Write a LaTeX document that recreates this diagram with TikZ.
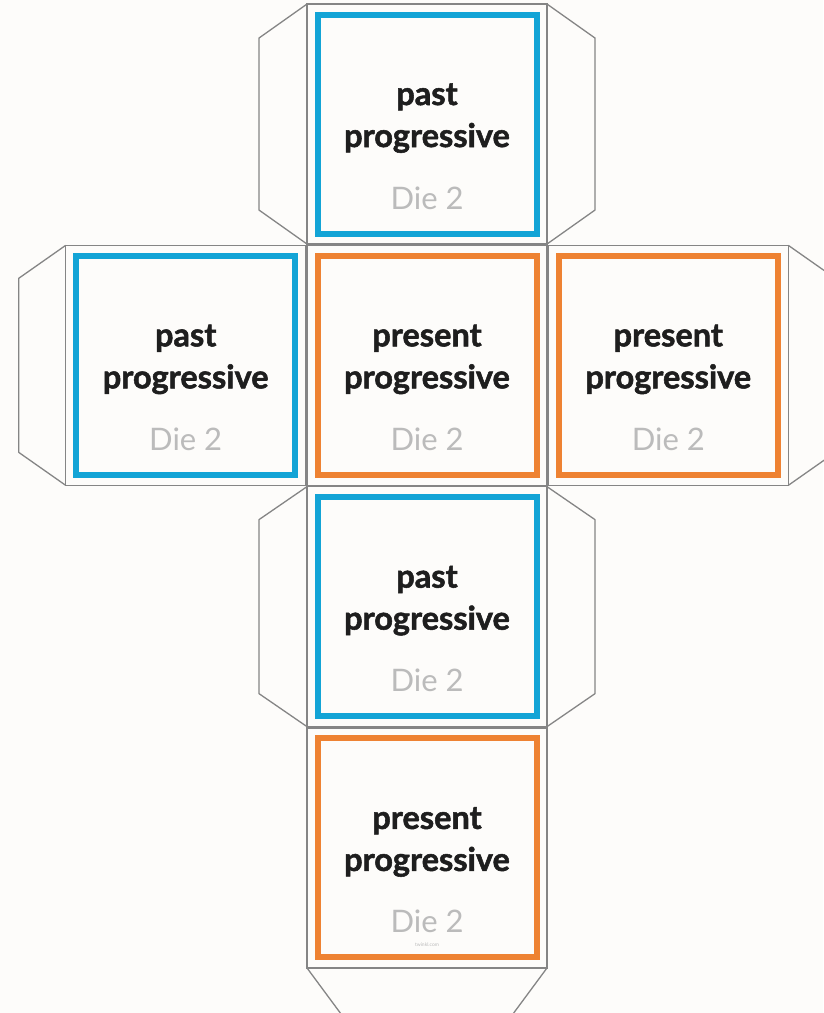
\documentclass[tikz,border=0pt]{standalone}
\usepackage{fontspec}
\setmainfont{Lato}[BoldFeatures={FakeBold=1.6}]
\definecolor{paper}{HTML}{FDFCFA}
\definecolor{netgray}{HTML}{858585}
\definecolor{dieblue}{HTML}{13A4D6}
\definecolor{dieorange}{HTML}{EE8232}
\definecolor{diegray}{HTML}{BBBBBB}
\definecolor{ink}{HTML}{1E1E1E}

\begin{document}
\begin{tikzpicture}[x=1pt,y=1pt]
    % `face' is one square of the net, `flap' is a glue tab on its side.
    % `pastframe' and `presentframe' are the coloured borders of the faces.
    \tikzstyle{face} = [draw=netgray,line width=1.3pt,minimum size=240pt,inner sep=0pt,outer sep=0pt]
    \tikzstyle{flap} = [draw=netgray,line width=1.3pt,line join=round]
    \tikzstyle{pastframe} = [draw=dieblue,line width=6pt,minimum size=219pt,inner sep=0pt]
    \tikzstyle{presentframe} = [draw=dieorange,line width=6pt,minimum size=219pt,inner sep=0pt]
    \tikzstyle{tense} = [font=\fontsize{32.5}{38}\selectfont\bfseries,text=ink,anchor=base,inner sep=0pt]
    \tikzstyle{dielabel} = [font=\fontsize{31}{36}\selectfont,text=diegray,anchor=base,inner sep=0pt]
    %
    \fill[paper,use as bounding box] (0,0) rectangle (823,1013);
    %
    \matrix[row sep=0pt, column sep=0pt, inner sep=0pt] (net) at (427,527) {
       & \node[face] (topface) {}; & \\
      \node[face] (leftface) {}; & \node[face] (frontface) {}; & \node[face] (rightface) {}; \\
       & \node[face] (underface) {}; & \\
       & \node[face] (backface) {}; & \\
    };
    % Glue tabs.
    \draw[flap] (topface.north west) -- ++(-48,-34) -- ++(0,-172) -- (topface.south west);
    \draw[flap] (topface.north east) -- ++(48,-34) -- ++(0,-172) -- (topface.south east);
    \draw[flap] (leftface.north west) -- ++(-47,-33) -- ++(0,-174) -- (leftface.south west);
    \draw[flap] (rightface.north east) -- ++(47,-33) -- ++(0,-174) -- (rightface.south east);
    \draw[flap] (underface.north west) -- ++(-48,-33) -- ++(0,-174) -- (underface.south west);
    \draw[flap] (underface.north east) -- ++(48,-33) -- ++(0,-174) -- (underface.south east);
    \draw[flap] (backface.south west) -- ++(34,-46) -- ++(172,0) -- (backface.south east);
    % Faces.
    \node[pastframe] (topframe) at (topface) {};
    \node[tense] (topword) at ([yshift=19pt]topface.center) {past};
    \node[tense] (topform) at ([yshift=-23pt]topface.center) {progressive};
    \node[dielabel] (topdie) at ([yshift=-85pt]topface.center) {Die 2};
    %
    \node[pastframe] (leftframe) at (leftface) {};
    \node[tense] (leftword) at ([yshift=19pt]leftface.center) {past};
    \node[tense] (leftform) at ([yshift=-23pt]leftface.center) {progressive};
    \node[dielabel] (leftdie) at ([yshift=-85pt]leftface.center) {Die 2};
    %
    \node[presentframe] (frontframe) at (frontface) {};
    \node[tense] (frontword) at ([yshift=19pt]frontface.center) {present};
    \node[tense] (frontform) at ([yshift=-23pt]frontface.center) {progressive};
    \node[dielabel] (frontdie) at ([yshift=-85pt]frontface.center) {Die 2};
    %
    \node[presentframe] (rightframe) at (rightface) {};
    \node[tense] (rightword) at ([yshift=19pt]rightface.center) {present};
    \node[tense] (rightform) at ([yshift=-23pt]rightface.center) {progressive};
    \node[dielabel] (rightdie) at ([yshift=-85pt]rightface.center) {Die 2};
    %
    \node[pastframe] (underframe) at (underface) {};
    \node[tense] (underword) at ([yshift=19pt]underface.center) {past};
    \node[tense] (underform) at ([yshift=-23pt]underface.center) {progressive};
    \node[dielabel] (underdie) at ([yshift=-85pt]underface.center) {Die 2};
    %
    \node[presentframe] (backframe) at (backface) {};
    \node[tense] (backword) at ([yshift=19pt]backface.center) {present};
    \node[tense] (backform) at ([yshift=-23pt]backface.center) {progressive};
    \node[dielabel] (backdie) at ([yshift=-85pt]backface.center) {Die 2};
    \node[font=\fontsize{5}{6}\selectfont,text=diegray] (credit) at ([yshift=-97pt]backface.center) {twinkl.com};
\end{tikzpicture}
\end{document}
